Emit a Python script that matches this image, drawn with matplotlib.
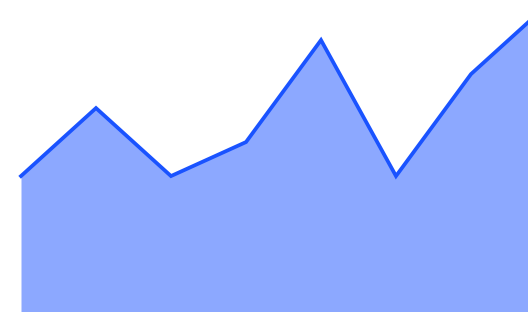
import matplotlib
matplotlib.use('Agg')
import matplotlib.pyplot as plt

# 数据
x_idx = [0, 1, 2, 3, 4, 5, 6, 7]
values = [20, 30, 20, 25, 40, 20, 35, 45]

line_color = '#1a53ff'

fig = plt.figure(figsize=(5.28, 3.12), dpi=100)
ax = fig.add_axes([0, 0, 1, 1])
ax.fill_between(x_idx, values, 0, color=line_color, alpha=0.5, linewidth=0)
ax.plot(x_idx, values, color=line_color, linewidth=2.7, solid_joinstyle='miter')
ax.set_xlim(-0.28, 6.76)
ax.set_ylim(0, 45.9)
ax.axis('off')
fig.savefig('out.png', dpi=100)
